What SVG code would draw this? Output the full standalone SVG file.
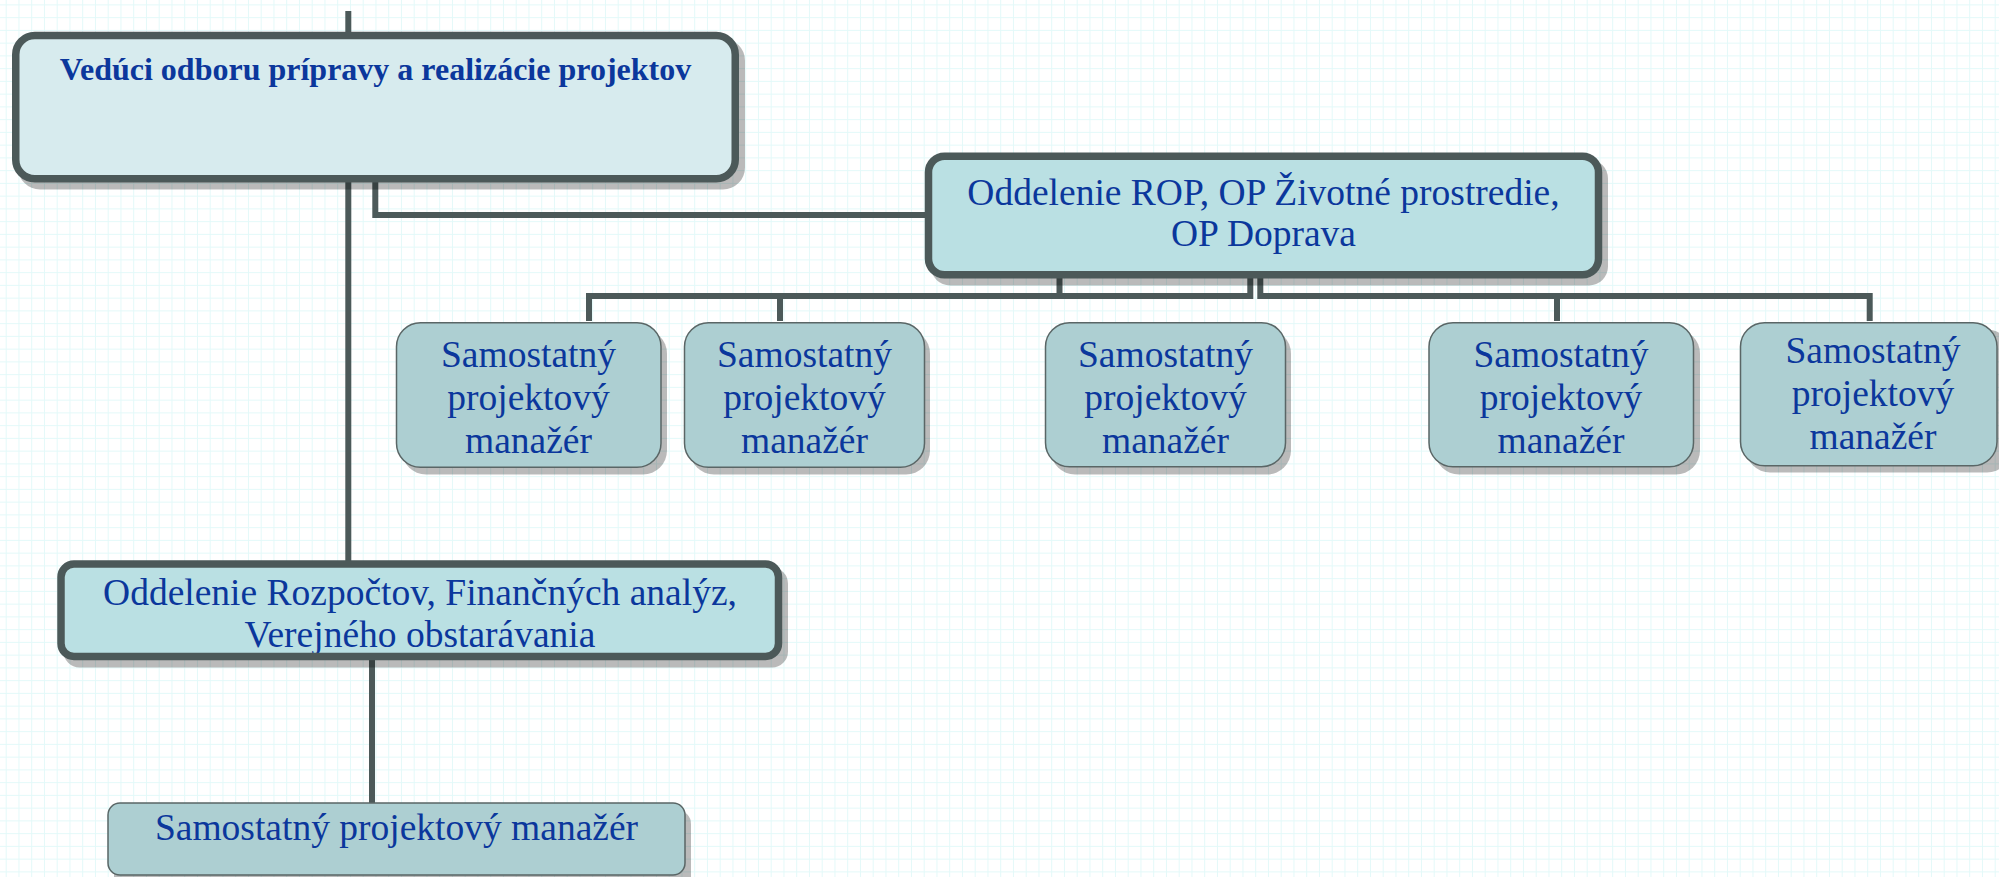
<svg xmlns="http://www.w3.org/2000/svg" width="1999" height="877" viewBox="0 0 1999 877">
<defs>
<pattern id="grid" x="5.7" y="4.4" width="12.75" height="12.75" patternUnits="userSpaceOnUse">
<path d="M0 0.5 H12.75 M0.5 0 V12.75" fill="none" stroke="#E3F9F9" stroke-width="1"/>
</pattern>
<style>
.conn{fill:none;stroke:#4C5959;stroke-width:6;stroke-linejoin:miter}
.shadow{fill:#000;fill-opacity:0.27}
.big{stroke:#4C5959;stroke-width:7.5}
.head{fill:#D7EBEE}
.dept{fill:#BAE0E3}
.child{fill:#ADCFD2;stroke:#5A6666;stroke-width:1.5}
.t{font-family:"Liberation Serif","Times New Roman",serif;font-size:37.5px;fill:#0B379C;text-anchor:middle}
.tb{font-family:"Liberation Serif","Times New Roman",serif;font-size:32px;font-weight:bold;fill:#0B379C;text-anchor:middle}
</style>
</defs>
<rect width="1999" height="877" fill="#FFFFFF"/>
<rect width="1999" height="877" fill="url(#grid)"/>

<g id="connectors">
<path class="conn" d="M348.3 11 V36"/>
<path class="conn" d="M348.3 178 V564"/>
<path class="conn" d="M375.3 178 V215 H928"/>
<path class="conn" d="M1059.5 275 V296"/>
<path class="conn" d="M589 321 V296 H1250.3 V275"/>
<path class="conn" d="M780 296 V321"/>
<path class="conn" d="M1260.3 275 V296 H1869.7 V321"/>
<path class="conn" d="M1557 296 V321"/>
<path class="conn" d="M372 656 V803"/>
</g>

<g id="node-head">
<rect class="shadow" x="18" y="38.5" width="727" height="151" rx="22"/>
<rect class="big head" x="15.75" y="35.5" width="719.5" height="143.2" rx="19"/>
<text class="tb" x="375.5" y="80">Vedúci odboru prípravy a realizácie projektov</text>
</g>

<g id="node-rop">
<rect class="shadow" x="931" y="159.5" width="677" height="126" rx="19"/>
<rect class="big dept" x="928.5" y="156.2" width="670" height="118.6" rx="16"/>
<text class="t" x="1263.5" y="205">Oddelenie ROP, OP Životné prostredie,</text>
<text class="t" x="1263.5" y="245.5">OP Doprava</text>
</g>

<g id="node-rozpocty">
<rect class="shadow" x="63.5" y="567.5" width="724.5" height="100" rx="16"/>
<rect class="dept" x="61" y="564" width="717.5" height="92.5" rx="13"/>
<text class="t" x="420" y="605">Oddelenie Rozpočtov, Finančných analýz,</text>
<text class="t" x="420" y="646.7">Verejného obstarávania</text>
<rect class="big" fill="none" x="61" y="564" width="717.5" height="92.5" rx="13"/>
</g>

<g id="node-spm1">
<rect class="shadow" x="402" y="329.5" width="265" height="145" rx="24"/>
<rect class="child" x="396.5" y="322.7" width="264.5" height="144.6" rx="24"/>
<text class="t" x="528.5" y="367.3">Samostatný</text>
<text class="t" x="528.5" y="410">projektový</text>
<text class="t" x="528.5" y="453.3">manažér</text>
</g>

<g id="node-spm2">
<rect class="shadow" x="690" y="329.5" width="240" height="145" rx="24"/>
<rect class="child" x="684.5" y="322.7" width="240" height="144.6" rx="24"/>
<text class="t" x="804.5" y="367.3">Samostatný</text>
<text class="t" x="804.5" y="410">projektový</text>
<text class="t" x="804.5" y="453.3">manažér</text>
</g>

<g id="node-spm3">
<rect class="shadow" x="1051" y="329.5" width="240" height="145" rx="24"/>
<rect class="child" x="1045.5" y="322.7" width="240" height="144" rx="24"/>
<text class="t" x="1165.5" y="367.3">Samostatný</text>
<text class="t" x="1165.5" y="410">projektový</text>
<text class="t" x="1165.5" y="453.3">manažér</text>
</g>

<g id="node-spm4">
<rect class="shadow" x="1435" y="329.5" width="265" height="145" rx="24"/>
<rect class="child" x="1429" y="322.7" width="264.5" height="144" rx="24"/>
<text class="t" x="1561" y="367.3">Samostatný</text>
<text class="t" x="1561" y="410">projektový</text>
<text class="t" x="1561" y="453.3">manažér</text>
</g>

<g id="node-spm5">
<rect class="shadow" x="1746" y="329.5" width="265" height="143" rx="24"/>
<rect class="child" x="1740.5" y="322.7" width="256.5" height="143" rx="24"/>
<text class="t" x="1873" y="363.3">Samostatný</text>
<text class="t" x="1873" y="406">projektový</text>
<text class="t" x="1873" y="449.3">manažér</text>
</g>

<g id="node-spm6">
<rect class="shadow" x="114" y="810" width="577" height="80" rx="14"/>
<rect class="child" x="108" y="803" width="577" height="72" rx="12"/>
<text class="t" x="396.5" y="840">Samostatný projektový manažér</text>
</g>
</svg>
